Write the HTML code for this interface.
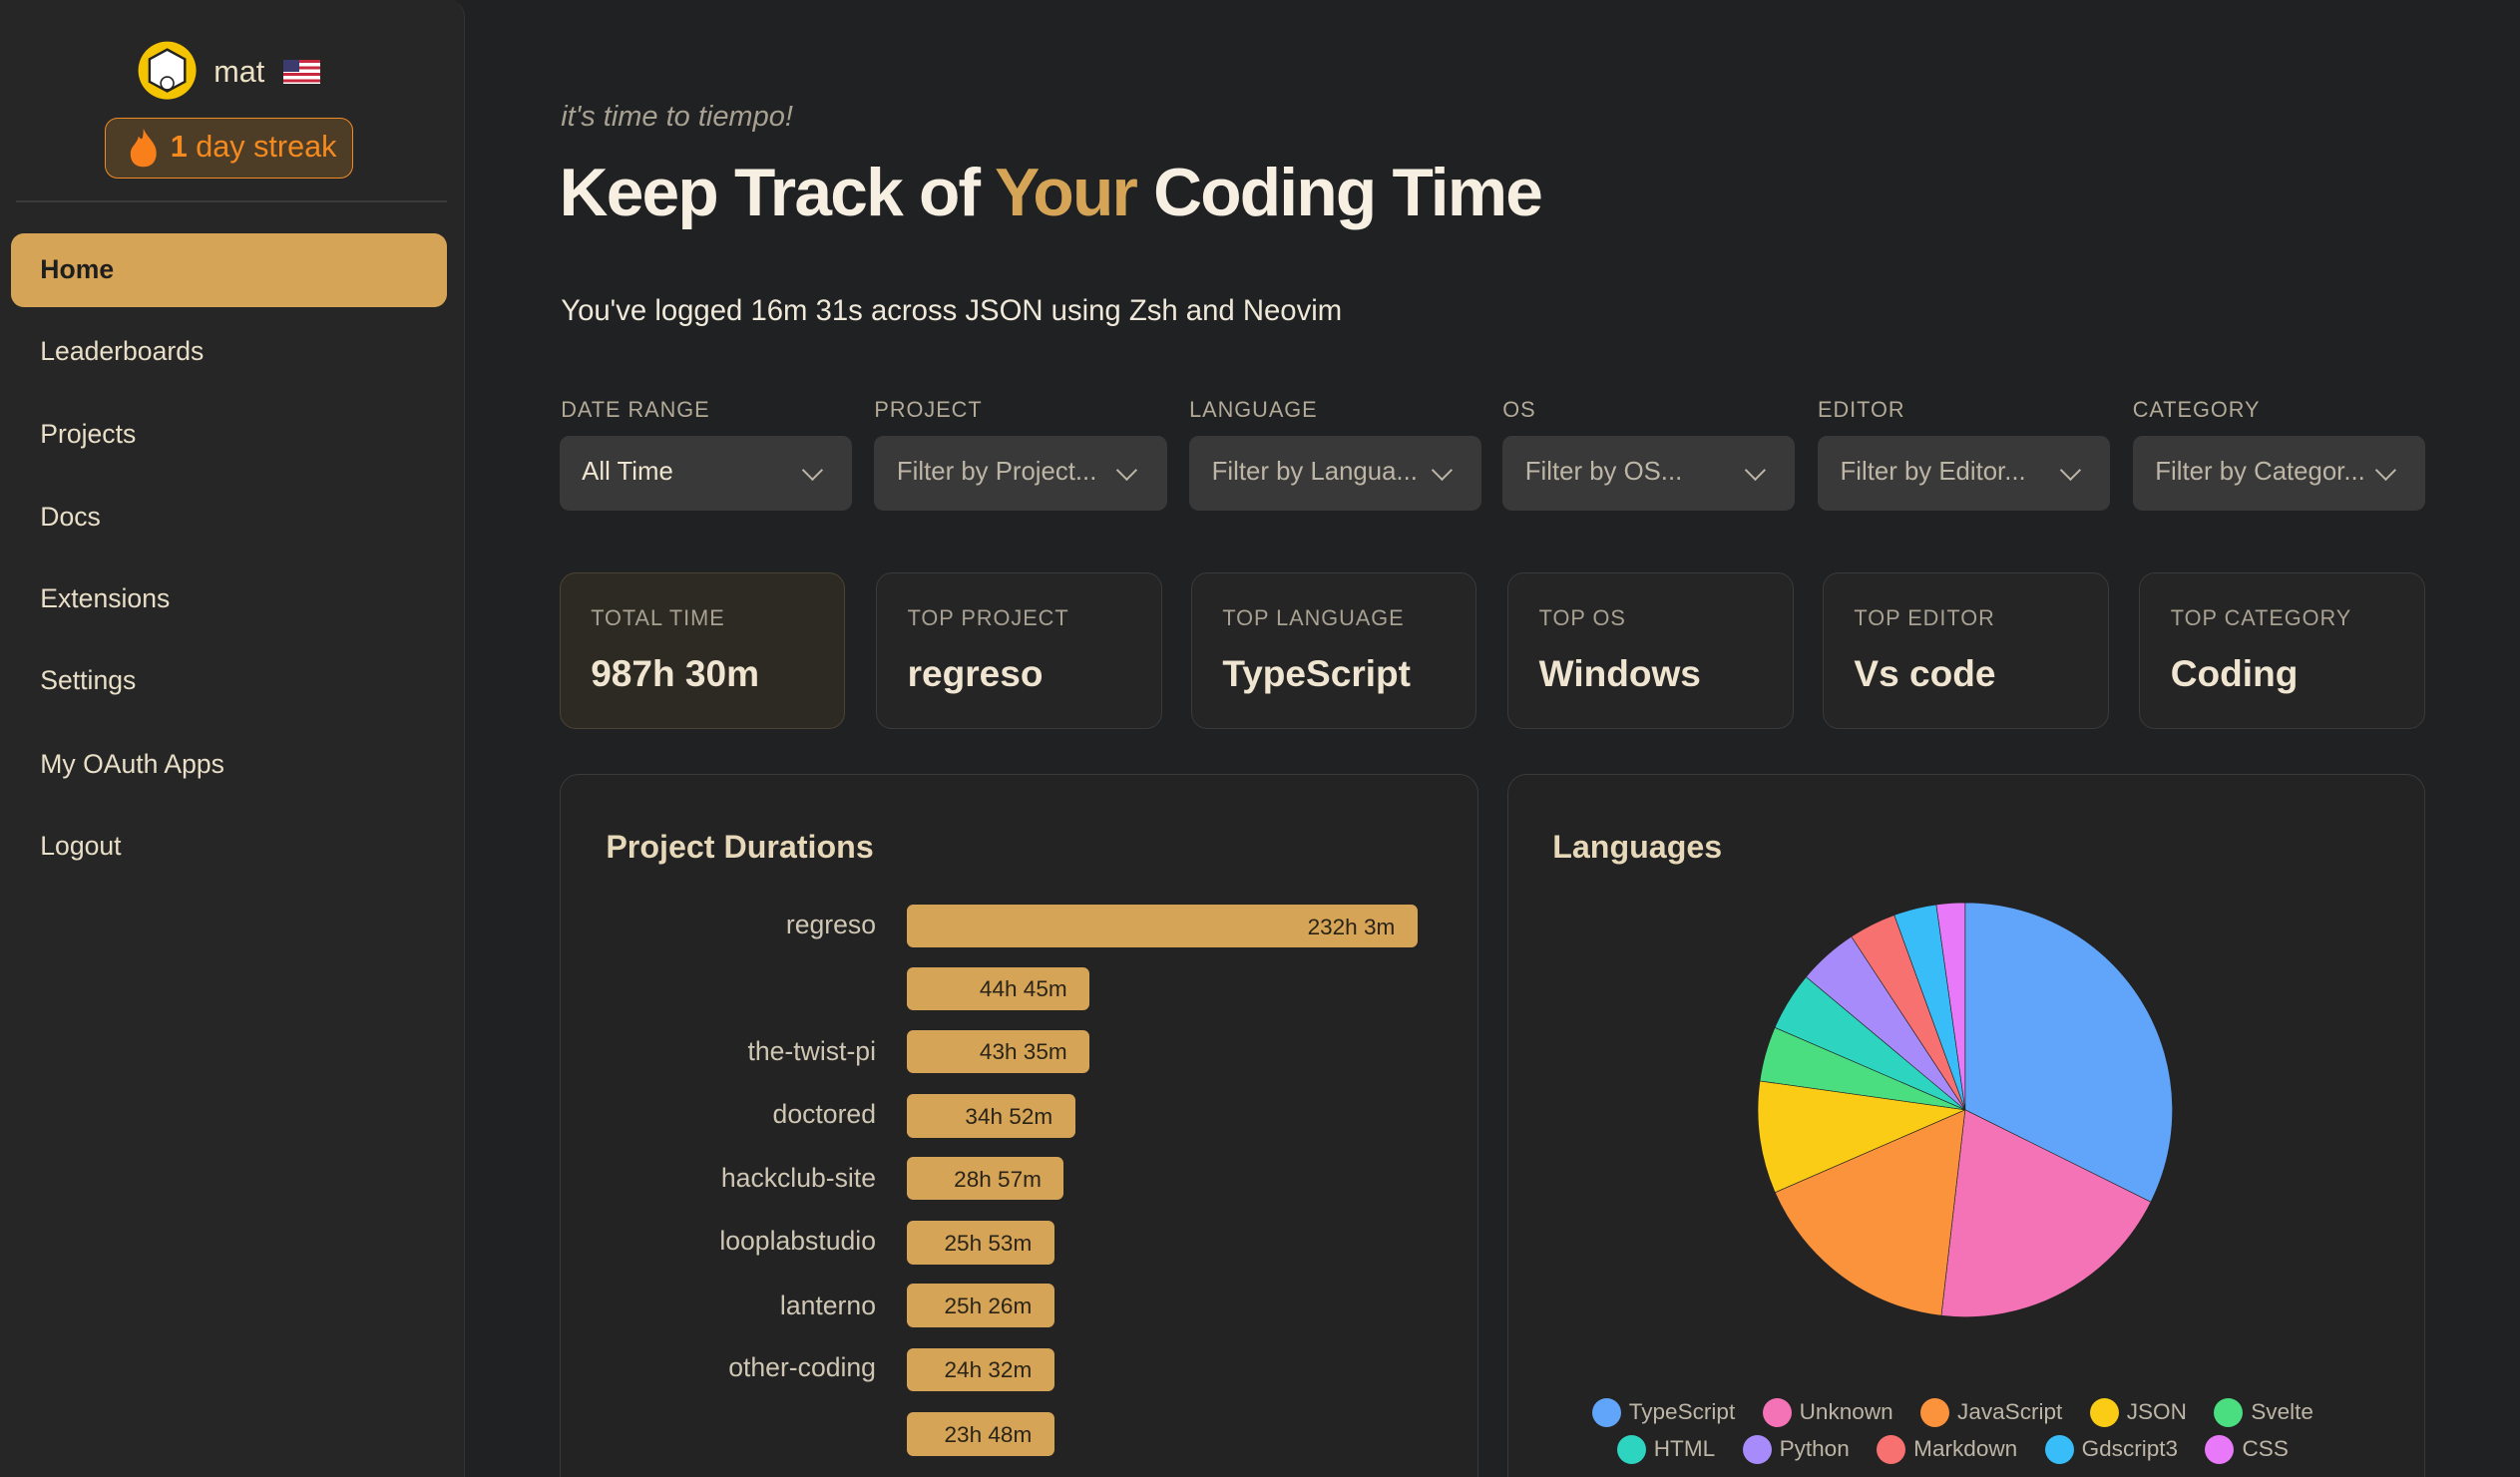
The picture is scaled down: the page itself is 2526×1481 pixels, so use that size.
<!DOCTYPE html>
<html><head><meta charset="utf-8"><style>
*{box-sizing:border-box;margin:0;padding:0}
html,body{width:2526px;height:1481px;overflow:hidden;background:#1f2123}
#w{zoom:1.61097;width:1568px;height:920px;position:relative;font-family:"Liberation Sans",sans-serif;color:#ece3cf;overflow:hidden}
.a{position:absolute}
.side{left:0;top:0;width:289px;height:930px;background:#262626;border-right:1px solid #333;border-radius:0 10px 0 0}
.nav{left:25px;font-size:16.5px;color:#e9dfc8}
.lab{font-size:13.5px;letter-spacing:.6px;color:#b3aa98;top:247px}
.sel{top:271px;width:182px;height:47px;background:#393939;border-radius:6px;font-size:16px;color:#bdb5a6;padding:14px 14px;white-space:nowrap;overflow:hidden}
.sel:after{content:"";position:absolute;right:20px;top:17px;width:8px;height:8px;border-right:1.6px solid #bdb5a6;border-bottom:1.6px solid #bdb5a6;transform:rotate(45deg)}
.card{top:356px;width:178px;height:98px;background:#252525;border:1px solid #3a3a3a;border-radius:10px;padding:20px 19px}
.card .t{font-size:13.5px;letter-spacing:.6px;color:#a9a192}
.card .v{font-size:23px;font-weight:bold;margin-top:13px;color:#efe5d0}
.panel{top:482px;height:460px;background:#232323;border:1px solid #3a3a3a;border-radius:12px}
.bl{right:1023px;font-size:16.5px;color:#cfc6b4;text-align:right;white-space:nowrap}
.bar{left:564px;height:27px;background:#d6a456;border-radius:4px;font-size:14px;color:#2a2418;text-align:right;padding:6px 14px 0 0}
.lg{font-size:14px;color:#bdb5a6;display:flex;gap:17px;justify-content:center;left:930px;width:570px}
.lg span{display:flex;align-items:center}
.lg i{display:inline-block;width:18px;height:18px;border-radius:50%;margin-right:5px}
</style></head><body><div id="w">
<div class="a side"></div>
<svg class="a" style="left:85px;top:25px" width="38" height="38" viewBox="0 0 38 38"><circle cx="19" cy="19" r="18" fill="#f5c400"/><path d="M8 12 L19 6 L30 12 L30 26 L19 32 L8 26Z" fill="#fff" stroke="#222" stroke-width="1.5"/><circle cx="19" cy="27" r="4" fill="#fff" stroke="#222"/></svg>
<div class="a" style="left:133px;top:34px;font-size:19px;color:#ece0c4">mat</div>
<div class="a" style="left:176px;top:37px;width:23px;height:15px;background:repeating-linear-gradient(#c9283e 0 2px,#fff 2px 4px)"><div style="width:10px;height:8px;background:#3c3b6e"></div></div>
<div class="a" style="left:65px;top:73px;width:155px;height:38px;border:1px solid #f08a24;border-radius:8px;background:#4d3d27"></div>
<svg class="a" style="left:78px;top:79px" width="22" height="26" viewBox="0 0 22 26"><path d="M11 1 C13 7 20 10 19 18 C18 24 14 25 11 25 C6 25 3 22 3 17 C3 12 7 11 8 6 C10 9 11 8 11 1Z" fill="#f97f1a"/></svg>
<div class="a" style="left:106px;top:81px;font-size:19px;color:#f58a1e"><b>1</b> day streak</div>
<div class="a" style="left:10px;top:125px;width:268px;height:1px;background:#3a3a3a"></div>
<div class="a" style="left:7px;top:145px;width:271px;height:46px;background:#d6a456;border-radius:8px"></div>
<div class="a nav" style="top:158px;color:#1e1e1e;font-weight:bold">Home</div>
<div class="a nav" style="top:209px">Leaderboards</div>
<div class="a nav" style="top:261px">Projects</div>
<div class="a nav" style="top:312px">Docs</div>
<div class="a nav" style="top:363px">Extensions</div>
<div class="a nav" style="top:414px">Settings</div>
<div class="a nav" style="top:466px">My OAuth Apps</div>
<div class="a nav" style="top:517px">Logout</div>

<div class="a" style="left:349px;top:63px;font-size:18px;font-style:italic;color:#a8a090">it's time to tiempo!</div>
<div class="a" style="left:348px;top:96px;font-size:42px;font-weight:bold;color:#f6efe2;letter-spacing:-1.1px">Keep Track of <span style="color:#d6a456">Your</span> Coding Time</div>
<div class="a" style="left:349px;top:183px;font-size:18.2px;color:#f0e8d8">You've logged 16m 31s across JSON using Zsh and Neovim</div>

<div class="a lab" style="left:349px">DATE RANGE</div>
<div class="a lab" style="left:544px">PROJECT</div>
<div class="a lab" style="left:740px">LANGUAGE</div>
<div class="a lab" style="left:935px">OS</div>
<div class="a lab" style="left:1131px">EDITOR</div>
<div class="a lab" style="left:1327px">CATEGORY</div>
<div class="a sel" style="left:348px;color:#efe5d0">All Time</div>
<div class="a sel" style="left:544px">Filter by Project...</div>
<div class="a sel" style="left:740px">Filter by Langua...</div>
<div class="a sel" style="left:935px">Filter by OS...</div>
<div class="a sel" style="left:1131px">Filter by Editor...</div>
<div class="a sel" style="left:1327px">Filter by Categor...</div>

<div class="a card" style="left:348px;background:#2d2a24;border-color:#4a4436"><div class="t">TOTAL TIME</div><div class="v">987h 30m</div></div>
<div class="a card" style="left:545px"><div class="t">TOP PROJECT</div><div class="v">regreso</div></div>
<div class="a card" style="left:741px"><div class="t">TOP LANGUAGE</div><div class="v">TypeScript</div></div>
<div class="a card" style="left:938px"><div class="t">TOP OS</div><div class="v">Windows</div></div>
<div class="a card" style="left:1134px"><div class="t">TOP EDITOR</div><div class="v">Vs code</div></div>
<div class="a card" style="left:1331px"><div class="t">TOP CATEGORY</div><div class="v">Coding</div></div>

<div class="a panel" style="left:348px;width:572px"></div>
<div class="a panel" style="left:938px;width:571px"></div>
<div class="a" style="left:377px;top:516px;font-size:20px;font-weight:bold;color:#e6d8b8">Project Durations</div>
<div class="a" style="left:966px;top:516px;font-size:20px;font-weight:bold;color:#e6d8b8">Languages</div>

<div class="a bl" style="top:566px">regreso</div><div class="a bar" style="top:563px;width:318px">232h 3m</div>
<div class="a bar" style="top:602px;width:114px">44h 45m</div>
<div class="a bl" style="top:645px">the-twist-pi</div><div class="a bar" style="top:641px;width:114px">43h 35m</div>
<div class="a bl" style="top:684px">doctored</div><div class="a bar" style="top:681px;width:105px">34h 52m</div>
<div class="a bl" style="top:724px">hackclub-site</div><div class="a bar" style="top:720px;width:98px">28h 57m</div>
<div class="a bl" style="top:763px">looplabstudio</div><div class="a bar" style="top:760px;width:92px">25h 53m</div>
<div class="a bl" style="top:803px">lanterno</div><div class="a bar" style="top:799px;width:92px">25h 26m</div>
<div class="a bl" style="top:842px">other-coding</div><div class="a bar" style="top:839px;width:92px">24h 32m</div>
<div class="a bar" style="top:879px;width:92px">23h 48m</div>

<svg class="a" id="pie" style="left:1094px;top:562px" width="258" height="258" viewBox="-129 -129 258 258"></svg>
<div class="a lg" style="top:870px"><span><i style="background:#60a5fa"></i>TypeScript</span><span><i style="background:#f472b6"></i>Unknown</span><span><i style="background:#fb923c"></i>JavaScript</span><span><i style="background:#facc15"></i>JSON</span><span><i style="background:#4ade80"></i>Svelte</span></div>
<div class="a lg" style="top:893px"><span><i style="background:#2dd4bf"></i>HTML</span><span><i style="background:#a78bfa"></i>Python</span><span><i style="background:#f87171"></i>Markdown</span><span><i style="background:#38bdf8"></i>Gdscript3</span><span><i style="background:#e879f9"></i>CSS</span></div>
</div>
<script>
var s=[[116.4,'#60a5fa'],[186.6,'#f472b6'],[246.5,'#fb923c'],[278,'#facc15'],[293.4,'#4ade80'],[309.9,'#2dd4bf'],[326.7,'#a78bfa'],[340,'#f87171'],[352,'#38bdf8'],[360,'#e879f9']];
var p=0,h='',r=129;
function pt(a){a=a*Math.PI/180;return (r*Math.sin(a)).toFixed(2)+' '+(-r*Math.cos(a)).toFixed(2)}
s.forEach(function(e){h+='<path d="M0 0 L'+pt(p)+' A'+r+' '+r+' 0 '+(e[0]-p>180?1:0)+' 1 '+pt(e[0])+'Z" fill="'+e[1]+'" stroke="#232323" stroke-width=".4"/>';p=e[0]});
document.getElementById('pie').innerHTML=h;
</script>
</body></html>
